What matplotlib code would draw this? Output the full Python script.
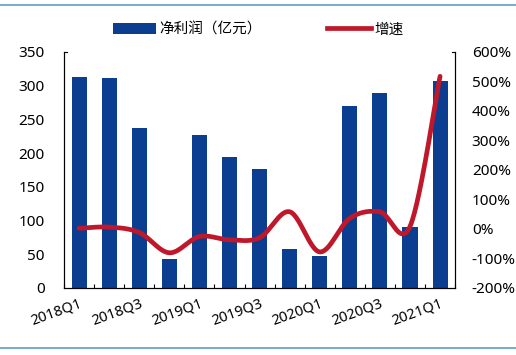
import numpy as np
import matplotlib
matplotlib.use("Agg")
import matplotlib.pyplot as plt
from matplotlib.lines import Line2D
from matplotlib.patches import Patch

plt.rcParams['font.family'] = ['Noto Sans', 'Noto Sans CJK SC', 'DejaVu Sans']

quarters = ["2018Q1", "2018Q2", "2018Q3", "2018Q4", "2019Q1", "2019Q2", "2019Q3",
            "2019Q4", "2020Q1", "2020Q2", "2020Q3", "2020Q4", "2021Q1"]
profit = [312, 311, 237, 43, 227, 194, 177, 58, 48, 269, 289, 90, 307]
growth = [2, 6, -12, -81, -26, -37, -30, 58, -78, 36, 58, 8, 517]

bar_color = "#0b3d91"
line_color = "#c0182b"

fig = plt.figure(figsize=(5.16, 3.55), dpi=100)
ax = fig.add_axes([0.124, 0.189, 0.758, 0.665])
x = np.arange(len(quarters))
ax.bar(x, profit, width=0.5, color=bar_color, zorder=2)
ax.set_xlim(-0.5, len(quarters) - 0.5)
ax.set_ylim(0, 350)
ax.set_yticks(np.arange(0, 351, 50))
ax.tick_params(axis='y', length=0, pad=14, labelsize=11)
ax.set_xticks(x[::2])
ax.set_xticklabels(quarters[::2], rotation=20, ha='right', rotation_mode='anchor', fontsize=10.5)
ax.tick_params(axis='x', length=0, pad=6)
ax.set_xticks(np.arange(-0.5, len(quarters), 1.0), minor=True)
ax.tick_params(axis='x', which='minor', direction='in', length=3, width=0.8)
ax.spines['top'].set_visible(False)
for s in ['left', 'right', 'bottom']:
    ax.spines[s].set_linewidth(0.8)

ax2 = ax.twinx()
# smooth rendering (Catmull-Rom) through the data points
xs = x.astype(float)
ys = np.array(growth, dtype=float)
px = [xs[0]] + list(xs) + [xs[-1]]
py = [ys[0]] + list(ys) + [ys[-1]]
sx, sy = [], []
t = np.linspace(0, 1, 30)
for i in range(1, len(px) - 2):
    p0, p1, p2, p3 = [np.array([px[j], py[j]]) for j in (i - 1, i, i + 1, i + 2)]
    c1 = p1 + (p2 - p0) / 6
    c2 = p2 - (p3 - p1) / 6
    for tt in t:
        b = ((1 - tt) ** 3) * p1 + 3 * ((1 - tt) ** 2) * tt * c1 + 3 * (1 - tt) * tt ** 2 * c2 + tt ** 3 * p2
        sx.append(b[0]); sy.append(b[1])
ax2.plot(sx, sy, color=line_color, lw=3.4, solid_capstyle='round', zorder=3)
ax2.set_ylim(-200, 600)
ax2.set_yticks(np.arange(-200, 601, 100))
ax2.set_yticklabels([f"{v}%" for v in range(-200, 601, 100)])
ax2.tick_params(axis='y', length=0, pad=12, labelsize=11)
ax2.spines['top'].set_visible(False)
ax2.spines['right'].set_linewidth(0.8)
# small caps at top of axes
ax.plot([-0.5, -0.4], [350, 350], color='black', lw=0.8, clip_on=False)
ax.plot([12.4, 12.5], [350, 350], color='black', lw=0.8, clip_on=False)

handles = [Patch(facecolor=bar_color, edgecolor='none'),
           Line2D([0], [0], color=line_color, lw=3.4)]
fig.legend(handles, ["净利润（亿元）", "增速"], loc='center', bbox_to_anchor=(0.5, 0.915),
           ncol=2, frameon=False, fontsize=10.5, handlelength=3.0, handleheight=0.8,
           columnspacing=4.5, handletextpad=0.2)

rule_color = "#5f9fc0"
fig.add_artist(Line2D([0, 1], [1 - 5 / 355, 1 - 5 / 355], color=rule_color, lw=1.2, transform=fig.transFigure))
fig.add_artist(Line2D([0, 1], [1 - 348 / 355, 1 - 348 / 355], color=rule_color, lw=1.2, transform=fig.transFigure))

fig.savefig("out.png", dpi=100)
